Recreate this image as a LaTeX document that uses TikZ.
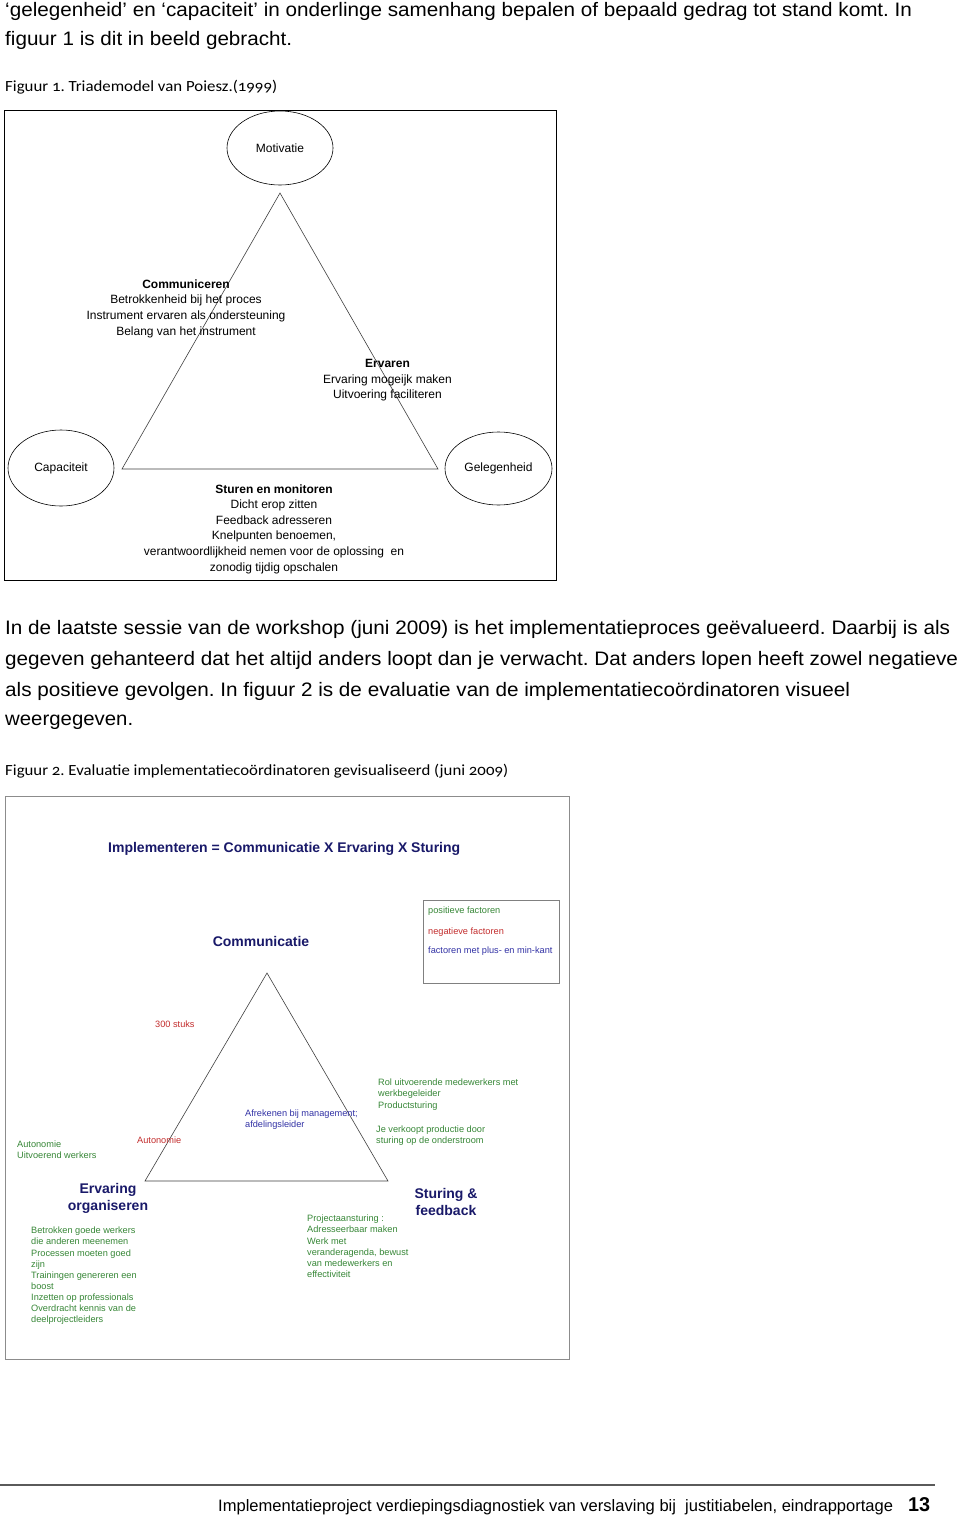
\documentclass[tikz,border=0pt]{standalone}
\usepackage{graphicx}
\usepackage{fontspec}
\setmainfont{Liberation Sans}
\newfontfamily\capfont{Carlito}[Numbers=OldStyle]
\usetikzlibrary{shapes.geometric}
\definecolor{navy}{RGB}{25,25,105}
\definecolor{fgreen}{RGB}{55,135,55}
\definecolor{fred}{RGB}{195,45,45}
\definecolor{fblue}{RGB}{50,50,165}
\definecolor{rulegray}{RGB}{90,90,90}
\frenchspacing
\newlength\fitlen
\newcommand{\fitto}[2]{\settowidth{\fitlen}{#2}\pgfmathsetmacro\fitratio{#1/\fitlen}\scalebox{\fitratio}[1]{#2}}
\newcommand{\bodyfont}{\fontsize{19.5}{23}\selectfont}
\newcommand{\capsz}{\capfont\fontsize{15.5}{18}\selectfont}
\newcommand{\figA}{\fontsize{12}{15.6}\selectfont}
\newcommand{\figsmall}{\fontsize{9.2}{11.1}\selectfont}
\newcommand{\figbig}{\bfseries\fontsize{14}{17}\selectfont}
\begin{document}
\begin{tikzpicture}[x=1pt,y=-1pt,
  bodyline/.style={anchor=west,inner sep=0pt,font=\bodyfont},
  capline/.style={anchor=west,inner sep=0pt,font=\capsz},
  oval/.style={ellipse,draw,line width=0.6pt,minimum width=106pt,minimum height=74pt,inner sep=0pt,font=\figA},
  blockA/.style={align=center,inner sep=0pt,font=\figA},
  tri/.style={draw=black!75,line width=0.6pt},
  smalltxt/.style={align=left,anchor=north west,inner sep=0pt,font=\figsmall},
  bigtxt/.style={align=center,inner sep=0pt,font=\figbig,text=navy}]
\useasboundingbox (0,0) rectangle (960,1518);
\fill[white] (0,0) rectangle (960,1518);

% ---------- top text ----------
\node[bodyline] (t1) at (5,11) {\fitto{907}{‘gelegenheid’ en ‘capaciteit’ in onderlinge samenhang bepalen of bepaald gedrag tot stand komt. In}};
\node[bodyline] (t2) at (5,40) {\fitto{287}{figuur 1 is dit in beeld gebracht.}};
\node[capline] (c1) at (5,87) {\fitto{272}{Figuur 1. Triademodel van Poiesz.(1999)}};

% ---------- figure 1 ----------
\node[draw,line width=1.1pt,minimum width=552pt,minimum height=470pt,anchor=north west,inner sep=0pt] (fig1) at (4,110) {};
\node[oval] (mot) at (280,148) {Motivatie};
\node[oval,minimum width=106pt,minimum height=76pt] (cap) at (61,468) {Capaciteit};
\node[oval,minimum width=107pt,minimum height=73pt] (gel) at (498.5,468.5) {Gelegenheid};
\coordinate (ta) at (280,193);
\coordinate (tl) at (122,469);
\coordinate (tr) at (438,469);
\draw[tri] (ta) -- (tl) -- (tr) -- cycle;
\node[blockA] (comm) at (186,308.5) {\textbf{Communiceren}\\Betrokkenheid bij het proces\\Instrument ervaren als ondersteuning\\Belang van het instrument};
\node[blockA] (erv) at (387.5,380.5) {\textbf{Ervaren}\\Ervaring mogeijk maken\\Uitvoering faciliteren};
\node[blockA] (stur) at (274,529) {\textbf{Sturen en monitoren}\\Dicht erop zitten\\Feedback adresseren\\Knelpunten benoemen,\\verantwoordlijkheid nemen voor de oplossing~ en\\zonodig tijdig opschalen};

% ---------- middle text ----------
\node[bodyline] (p1) at (5,629) {\fitto{945}{In de laatste sessie van de workshop (juni 2009) is het implementatieproces geëvalueerd. Daarbij is als}};
\node[bodyline] (p2) at (5,660) {\fitto{953}{gegeven gehanteerd dat het altijd anders loopt dan je verwacht. Dat anders lopen heeft zowel negatieve}};
\node[bodyline] (p3) at (5,691) {\fitto{845}{als positieve gevolgen. In figuur 2 is de evaluatie van de implementatiecoördinatoren visueel}};
\node[bodyline] (p4) at (5,722) {\fitto{128}{weergegeven.}};
\node[capline] (c2) at (5,771) {\fitto{503}{Figuur 2. Evaluatie implementatiecoördinatoren gevisualiseerd (juni 2009)}};

% ---------- figure 2 ----------
\node[draw=black!45,line width=0.9pt,minimum width=564pt,minimum height=563pt,anchor=north west,inner sep=0pt] (fig2) at (5,796) {};
\node[anchor=west,inner sep=0pt,font=\figbig,text=navy] (title) at (108,849) {Implementeren = Communicatie X Ervaring X Sturing};
\node[bigtxt] (commun) at (261,941) {Communicatie};
\node[draw=black!50,line width=0.6pt,minimum width=136pt,minimum height=83pt,anchor=north west,inner sep=0pt] (legend) at (423,900) {};
\node[anchor=west,inner sep=0pt,font=\figsmall,text=fgreen] (lg1) at (428,911.5) {positieve factoren};
\node[anchor=west,inner sep=0pt,font=\figsmall,text=fred] (lg2) at (428,932.5) {negatieve factoren};
\node[anchor=west,inner sep=0pt,font=\figsmall,text=fblue] (lg3) at (428,951.5) {factoren met plus- en min-kant};

\coordinate (sa) at (267,973);
\coordinate (sl) at (145,1181);
\coordinate (sr) at (388,1181);
\draw[tri] (sa) -- (sl) -- (sr) -- cycle;

\node[anchor=west,inner sep=0pt,font=\figsmall,text=fred] (stuks) at (155,1024.5) {300 stuks};
\node[anchor=west,inner sep=0pt,font=\figsmall,text=fred] (auton) at (137,1140.5) {Autonomie};
\node[smalltxt,text=fgreen] (auto2) at (17,1141) {Autonomie\\Uitvoerend werkers};
\node[smalltxt,text=fblue] (afrek) at (245,1110) {Afrekenen bij management;\\afdelingsleider};
\node[smalltxt,text=fgreen] (rol) at (378,1079) {Rol uitvoerende medewerkers met\\werkbegeleider\\Productsturing};
\node[smalltxt,text=fgreen] (verk) at (376,1126) {Je verkoopt productie door\\sturing op de onderstroom};

\node[bigtxt] (ervorg) at (108,1198.5) {Ervaring\\organiseren};
\node[smalltxt,text=fgreen] (ervlist) at (31,1227) {Betrokken goede werkers\\die anderen meenemen\\Processen moeten goed\\zijn\\Trainingen genereren een\\boost\\Inzetten op professionals\\Overdracht kennis van de\\deelprojectleiders};
\node[bigtxt] (sturfb) at (446,1202) {Sturing \&\\feedback};
\node[smalltxt,text=fgreen] (proj) at (307,1215) {Projectaansturing :\\Adresseerbaar maken\\Werk met\\veranderagenda, bewust\\van medewerkers en\\effectiviteit};

% ---------- footer ----------
\coordinate (ruleL) at (0,1485);
\coordinate (ruleR) at (935,1485);
\draw[rulegray,line width=2pt] (ruleL) -- (ruleR);
\node[anchor=west,inner sep=0pt,font=\fontsize{16.5}{20}\selectfont] (foot) at (218,1507) {\fitto{675}{Implementatieproject verdiepingsdiagnostiek van verslaving bij~ justitiabelen, eindrapportage}};
\node[anchor=west,inner sep=0pt,font=\bfseries\fontsize{20}{24}\selectfont] (pnum) at (908,1505) {\fitto{22}{13}};
\end{tikzpicture}
\end{document}
